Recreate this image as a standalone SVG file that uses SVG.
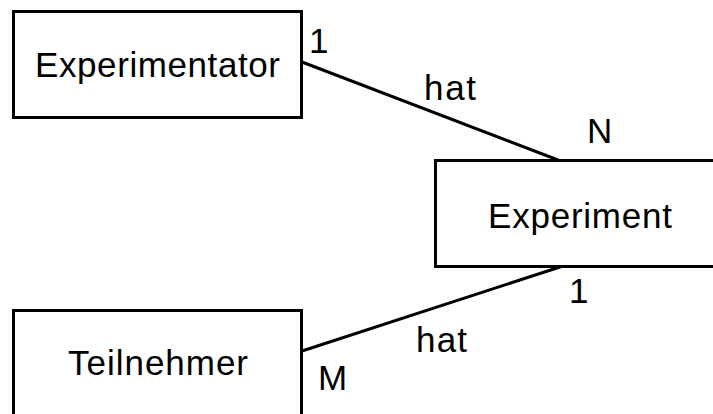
<svg xmlns="http://www.w3.org/2000/svg" width="713" height="414" viewBox="0 0 713 414">
  <style>
    .box { fill: #ffffff; stroke: #000000; stroke-width: 3; }
    .edge { stroke: #000000; stroke-width: 3; fill: none; }
    .name { font-family: "Liberation Sans", Arial, sans-serif; font-size: 35px; fill: #000000; text-anchor: middle; }
    .lbl { font-family: "Liberation Sans", Arial, sans-serif; font-size: 35px; fill: #000000; }
  </style>
  <rect width="713" height="414" fill="#ffffff"/>

  <!-- relationship lines with cardinalities -->
  <g id="connectors">
    <line class="edge" x1="302" y1="62" x2="558" y2="160"/>
    <line class="edge" x1="302" y1="351" x2="563" y2="266"/>
    <text class="lbl" x="309" y="53">1</text>
    <text class="lbl" x="424" y="100" textLength="52">hat</text>
    <text class="lbl" x="587" y="143">N</text>
    <text class="lbl" x="569" y="303">1</text>
    <text class="lbl" x="416" y="352" textLength="51">hat</text>
    <text class="lbl" x="318" y="390">M</text>
  </g>

  <g id="experimentator">
    <rect class="box" x="13.5" y="11.5" width="288" height="106"/>
    <text class="name" x="157.5" y="77" textLength="245">Experimentator</text>
  </g>

  <g id="experiment">
    <rect class="box" x="435.5" y="160.5" width="290" height="106"/>
    <text class="name" x="580" y="228" textLength="184">Experiment</text>
  </g>

  <g id="teilnehmer">
    <rect class="box" x="13.5" y="310.5" width="288" height="120"/>
    <text class="name" x="158" y="375" textLength="180">Teilnehmer</text>
  </g>
</svg>
